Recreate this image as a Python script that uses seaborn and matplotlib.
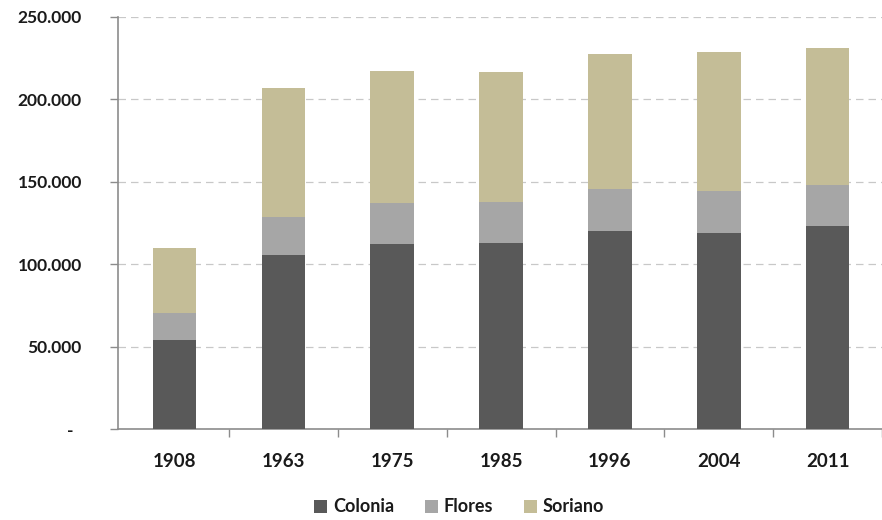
import matplotlib
matplotlib.use("Agg")
import matplotlib.pyplot as plt
import matplotlib.ticker as mticker
from matplotlib.patches import Patch
import numpy as np
import pandas as pd
import seaborn as sns

# Population by department and census year
years = ["1908", "1963", "1975", "1985", "1996", "2004", "2011"]
colonia = [54100, 105600, 112100, 112700, 120200, 119200, 123400]
flores = [16600, 23200, 24900, 25100, 25400, 25400, 24700]
soriano = [39300, 77900, 80300, 78700, 81700, 84200, 82800]

series = ["Colonia", "Flores", "Soriano"]
colors = {"Colonia": "#595959", "Flores": "#A6A6A6", "Soriano": "#C4BD97"}

df = pd.DataFrame({"year": years, "Colonia": colonia, "Flores": flores, "Soriano": soriano})
df["c1"] = df["Colonia"]
df["c2"] = df["Colonia"] + df["Flores"]
df["c3"] = df["c2"] + df["Soriano"]

sns.set_theme(style="white")
plt.rcParams["font.family"] = ["Lato", "DejaVu Sans"]

fig = plt.figure(figsize=(8.82, 5.2), dpi=100)
ax = fig.add_axes([118 / 882, 1 - 429.3 / 520, (882 - 118) / 882, (429.3 - 16.7) / 520])

# Stacked bars: draw cumulative totals from tallest to shortest
for col, name in [("c3", "Soriano"), ("c2", "Flores"), ("c1", "Colonia")]:
    sns.barplot(data=df, x="year", y=col, color=colors[name], width=0.4,
                saturation=1, ax=ax, zorder=3, linewidth=0)

ax.set_ylim(0, 250000)
ax.set_xlim(-0.52, -0.52 + 764 / 110.3)
ax.yaxis.set_major_locator(mticker.MultipleLocator(50000))


def fmt(v, pos):
    if v == 0:
        return "-  "
    return f"{int(v):,}".replace(",", ".")


ax.yaxis.set_major_formatter(mticker.FuncFormatter(fmt))
ax.grid(axis="y", color="#C8C8C8", linestyle=(0, (6, 4)), linewidth=0.9, zorder=0)
ax.grid(axis="x", visible=False)

for s in ["top", "right"]:
    ax.spines[s].set_visible(False)
for s in ["left", "bottom"]:
    ax.spines[s].set_color("#8C8C8C")
    ax.spines[s].set_linewidth(1.2)

ax.set_xlabel("")
ax.set_ylabel("")
ax.tick_params(axis="y", which="major", left=True, length=6, color="#8C8C8C",
               width=1, labelsize=12.5, labelcolor="#1a1a1a")
for lbl in ax.get_yticklabels():
    lbl.set_fontweight("bold")
ax.yaxis.set_tick_params(pad=20)

# Category separators on the x axis
ax.set_xticks(np.arange(len(years)) + 0.5, minor=True)
ax.tick_params(axis="x", which="minor", bottom=True, length=6, color="#8C8C8C", width=1)
ax.tick_params(axis="x", which="major", bottom=False, labelsize=13.5, pad=11,
               labelcolor="#1a1a1a")
for lbl in ax.get_xticklabels():
    lbl.set_fontweight("bold")

handles = [Patch(facecolor=colors[n], edgecolor="none", label=n) for n in series]
leg = fig.legend(handles=handles, loc="center", bbox_to_anchor=(459 / 882, 1 - 507 / 520),
                 ncol=3, frameon=False, handlelength=0.75, handleheight=0.75,
                 handletextpad=0.3, columnspacing=1.7,
                 prop={"weight": "bold", "size": 13})
for t in leg.get_texts():
    t.set_color("#1a1a1a")

fig.savefig("out.png", dpi=100)
